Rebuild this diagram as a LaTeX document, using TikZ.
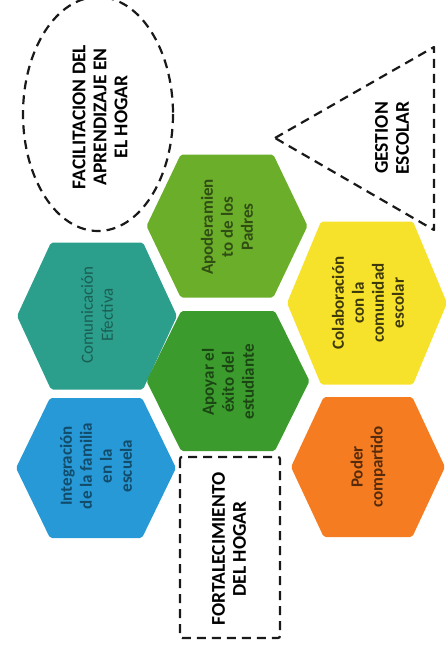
\documentclass[tikz,border=0pt]{standalone}
\usepackage{fontspec}
\setmainfont{Carlito}
\definecolor{cApo}{HTML}{6BAE2A}
\definecolor{cCom}{HTML}{2B9E8C}
\definecolor{cApy}{HTML}{3C9B2D}
\definecolor{cCol}{HTML}{F7E22B}
\definecolor{cInt}{HTML}{2699D6}
\definecolor{cPod}{HTML}{F57C20}
\newcommand{\hexshape}[5]{%
  \fill[#5, rounded corners=2pt] ({#1-#3},#2) -- ({#1-#3*0.575},{#2-#4}) -- ({#1+#3*0.575},{#2-#4}) -- ({#1+#3},#2) -- ({#1+#3*0.575},{#2+#4}) -- ({#1-#3*0.575},{#2+#4}) -- cycle;}
\tikzset{
  dashline/.style={draw=black!90, line width=2.2pt, dash pattern=on 9pt off 6pt},
  lbl/.style={rotate=90, align=center, font=\bfseries\fontsize{19.5}{21}\selectfont, inner sep=0pt},
  hxt/.style={rotate=90, align=center, font=\bfseries\fontsize{17}{20}\selectfont, inner sep=0pt},
}
\begin{document}
\begin{tikzpicture}[x=1pt, y=-1pt]
\useasboundingbox (0,0) rectangle (445,650);
% dashed shapes
\draw[dashline] (98,114) ellipse [x radius=75, y radius=117];
\node[lbl] (facil) at (100,117) {FACILITACION DEL\\APRENDIZAJE EN\\EL HOGAR};
\draw[dashline, line join=round] (275,138) -- (434,47) -- (434,230) -- cycle;
\node[lbl] (gest) at (392,138) {GESTION\\ESCOLAR};
\draw[dashline, rounded corners=2pt] (180,457) rectangle (280,638);
\node[lbl] (fort) at (229,549) {FORTALECIMIENTO\\DEL HOGAR};
% hexagons
\hexshape{227}{226}{80.5}{71.5}{cApo}
\hexshape{97}{316}{80}{73.5}{cCom}
\hexshape{228}{381}{81.5}{70}{cApy}
\hexshape{367}{303}{80}{81.5}{cCol}
\hexshape{96}{468}{80}{70}{cInt}
\hexshape{368}{467}{77}{70}{cPod}
% hexagon texts
\node[hxt, text=cApo!45!black] (tApo) at (227,227) {Apoderamien\\to de los\\Padres};
\node[hxt, text=cCom!60!black, font=\fontsize{17}{20}\selectfont] (tCom) at (97,315) {Comunicación\\Efectiva};
\node[hxt, text=cApy!45!black] (tApy) at (228,382) {Apoyar el\\éxito del\\estudiante};
\node[hxt, text=cCol!25!black] (tCol) at (368,303) {Colaboración\\con la\\comunidad\\escolar};
\node[hxt, text=cInt!50!black] (tInt) at (96,466) {Integración\\de la familia\\en la\\escuela};
\node[hxt, text=cPod!35!black] (tPod) at (368,467) {Poder\\compartido};
\end{tikzpicture}
\end{document}
